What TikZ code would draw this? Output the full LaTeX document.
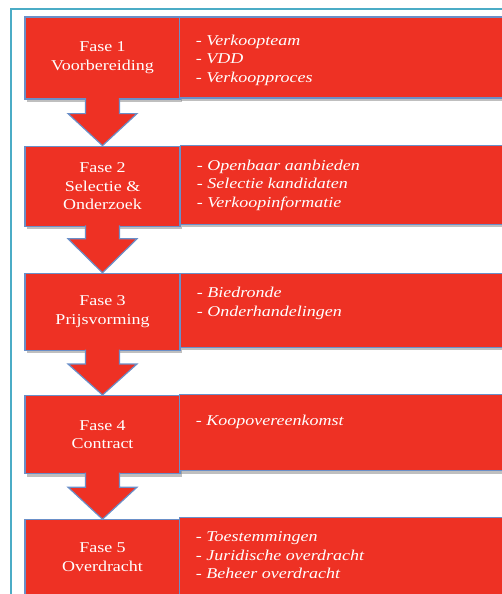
\documentclass[tikz,border=0pt]{standalone}
\usepackage{fontspec}
\setmainfont{Liberation Serif}[FakeStretch=1.2]
\usetikzlibrary{positioning,shadows}
\definecolor{brick}{HTML}{EE3124}
\definecolor{steel}{HTML}{6A8FC8}
\definecolor{lagoon}{HTML}{4BACC6}

\begin{document}
\begin{tikzpicture}[
  x=1pt, y=1pt,
  phase/.style={draw=steel, line width=1.2pt, fill=brick, text=white,
                minimum width=155pt, inner sep=0pt, align=center,
                font=\fontsize{15}{18.7}\selectfont,
                drop shadow={shadow xshift=2pt, shadow yshift=-3pt, opacity=0.5}},
  detail/.style={draw=steel, line width=1.2pt, fill=brick, anchor=north west,
                 minimum width=345pt, inner sep=0pt,
                 drop shadow={shadow xshift=2pt, shadow yshift=-3pt, opacity=0.5}},
  items/.style={text=white, align=left, anchor=north west, inner sep=0pt,
                font=\fontsize{15}{18.7}\selectfont\itshape},
  flow/.style={draw=steel, line width=1.2pt, fill=brick, line join=miter},
]

\useasboundingbox (0,0) rectangle (501,-594);
\draw[lagoon, line width=1.8pt] (11,-9) rectangle (540,-640);

\node[phase, minimum height=82pt] (p1) at (102.5,-58) {Fase 1\\Voorbereiding};
\node[phase, minimum height=80pt, below=46pt of p1] (p2) {Fase 2\\Selectie \&\\Onderzoek};
\node[phase, minimum height=77pt, below=46pt of p2] (p3) {Fase 3\\Prijsvorming};
\node[phase, minimum height=78pt, below=44pt of p3] (p4) {Fase 4\\Contract};
\node[phase, minimum height=75pt, below=45pt of p4] (p5) {Fase 5\\Overdracht};

\node[detail, minimum height=81pt] (d1) at ([xshift=-2pt]p1.north east) {};
\node[detail, minimum height=79pt] (d2) at ([xshift=-1pt,yshift=1pt]p2.north east) {};
\node[detail, minimum height=74pt] (d3) at ([xshift=-1pt]p3.north east) {};
\node[detail, minimum height=76pt] (d4) at ([xshift=-2pt,yshift=1pt]p4.north east) {};
\node[detail, minimum height=77pt] (d5) at ([xshift=-2pt,yshift=2pt]p5.north east) {};

\node[items] (l1) at ([xshift=17pt,yshift=-18pt]d1.north west) {- Verkoopteam\\- VDD\\- Verkoopproces};
\node[items] (l2) at ([xshift=17pt,yshift=-15pt]d2.north west) {- Openbaar aanbieden\\- Selectie kandidaten\\- Verkoopinformatie};
\node[items] (l3) at ([xshift=17pt,yshift=-14pt]d3.north west) {- Biedronde\\- Onderhandelingen};
\node[items] (l4) at ([xshift=17pt,yshift=-21pt]d4.north west) {- Koopovereenkomst};
\node[items] (l5) at ([xshift=17pt,yshift=-14pt]d5.north west) {- Toestemmingen\\- Juridische overdracht\\- Beheer overdracht};

\draw[flow] ([xshift=-17pt,yshift=1.5pt]p1.south) -- ([xshift=-17pt,yshift=-14pt]p1.south)
  -- ([xshift=-34.5pt,yshift=-14pt]p1.south) -- (p2.north)
  -- ([xshift=34.5pt,yshift=-14pt]p1.south) -- ([xshift=17pt,yshift=-14pt]p1.south)
  -- ([xshift=17pt,yshift=1.5pt]p1.south);
\draw[flow] ([xshift=-17pt,yshift=1.5pt]p2.south) -- ([xshift=-17pt,yshift=-12pt]p2.south)
  -- ([xshift=-34.5pt,yshift=-12pt]p2.south) -- (p3.north)
  -- ([xshift=34.5pt,yshift=-12pt]p2.south) -- ([xshift=17pt,yshift=-12pt]p2.south)
  -- ([xshift=17pt,yshift=1.5pt]p2.south);
\draw[flow] ([xshift=-17pt,yshift=1.5pt]p3.south) -- ([xshift=-17pt,yshift=-13pt]p3.south)
  -- ([xshift=-34.5pt,yshift=-13pt]p3.south) -- (p4.north)
  -- ([xshift=34.5pt,yshift=-13pt]p3.south) -- ([xshift=17pt,yshift=-13pt]p3.south)
  -- ([xshift=17pt,yshift=1.5pt]p3.south);
\draw[flow] ([xshift=-17pt,yshift=1.5pt]p4.south) -- ([xshift=-17pt,yshift=-13pt]p4.south)
  -- ([xshift=-34.5pt,yshift=-13pt]p4.south) -- (p5.north)
  -- ([xshift=34.5pt,yshift=-13pt]p4.south) -- ([xshift=17pt,yshift=-13pt]p4.south)
  -- ([xshift=17pt,yshift=1.5pt]p4.south);

\end{tikzpicture}
\end{document}
